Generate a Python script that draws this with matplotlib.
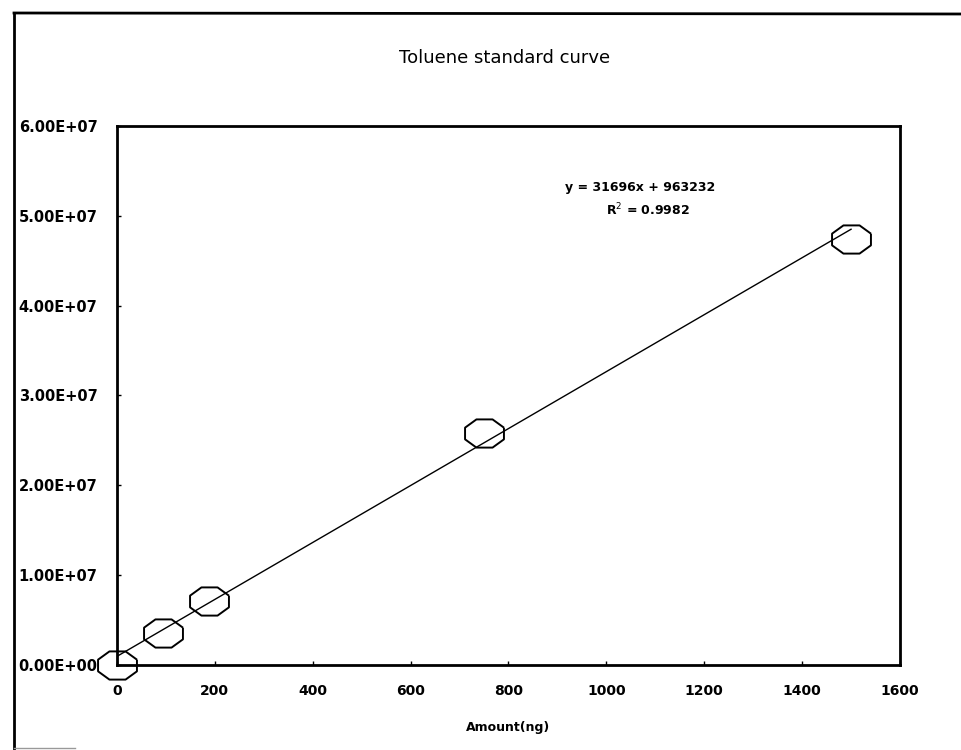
import numpy as np
import matplotlib
matplotlib.use("Agg")
import matplotlib.pyplot as plt
from matplotlib.lines import Line2D

# Data
amount_ng = [0, 93.75, 187.5, 750, 1500]
area = [0.0, 3.56e6, 7.1e6, 2.58e7, 4.74e7]
slope = 31696
intercept = 963232
r_squared = 0.9982
x_ticks = [0, 200, 400, 600, 800, 1000, 1200, 1400, 1600]
y_ticks = [0, 1e7, 2e7, 3e7, 4e7, 5e7, 6e7]
y_tick_labels = ["0.00E+00", "1.00E+07", "2.00E+07", "3.00E+07",
                 "4.00E+07", "5.00E+07", "6.00E+07"]
title = "Toluene standard curve"
x_label = "Amount(ng)"

plt.rcParams['font.family'] = ['DejaVu Sans']

fig = plt.figure(figsize=(9.62, 7.5), dpi=100)
fig.patch.set_facecolor('white')

# outer chart frame (left and top edges visible)
fig.add_artist(Line2D([14/962, 14/962], [0, 1 - 13/750], color='black', lw=2,
                      transform=fig.transFigure))
fig.add_artist(Line2D([14/962, 1], [1 - 13/750, 1 - 14/750], color='black', lw=2,
                      transform=fig.transFigure))
fig.add_artist(Line2D([14/962, 75/962], [2/750, 2/750], color='#999999', lw=1,
                      transform=fig.transFigure))

ax = fig.add_axes([117/962, 85/750, (900-117)/962, (665-126)/750])

# octagon marker, horizontally stretched
ang = np.deg2rad(22.5 + 45*np.arange(8))
verts = list(zip(1.38*np.cos(ang), np.sin(ang)))
verts.append(verts[0])

xs = np.array([0, max(amount_ng)])
ax.plot(xs, slope*xs + intercept, color='black', lw=1.0, zorder=2)
ax.plot(amount_ng, area, linestyle='none', marker=verts, markersize=28,
        markerfacecolor='none', markeredgecolor='black', markeredgewidth=1.4,
        zorder=3, clip_on=False)

ax.set_xlim(0, 1600)
ax.set_ylim(0, 6e7)
ax.set_xticks(x_ticks)
ax.set_xticklabels([str(v) for v in x_ticks], fontsize=10, fontweight='bold')
ax.set_yticks(y_ticks)
ax.set_yticklabels(y_tick_labels, fontsize=10.5, fontweight='bold')
ax.tick_params(axis='x', direction='in', length=3, width=1, pad=14)
ax.tick_params(axis='y', direction='in', length=3, width=1, pad=14)
for s in ax.spines.values():
    s.set_linewidth(2)
    s.set_color('black')

ax.set_xlabel(x_label, fontsize=9, fontweight='bold', labelpad=16)

fig.text(505/962, 1 - 58/750, title, ha='center', va='center', fontsize=13)

eq = "y = %dx + %d" % (slope, intercept)
fig.text(640/962, 1 - 187/750, eq, ha='center', va='center', fontsize=9,
         fontweight='bold')
fig.text(648/962, 1 - 210/750, "R$^2$ = %.4f" % r_squared, ha='center',
         va='center', fontsize=9, fontweight='bold')

fig.savefig("out.png", dpi=100, facecolor='white')
